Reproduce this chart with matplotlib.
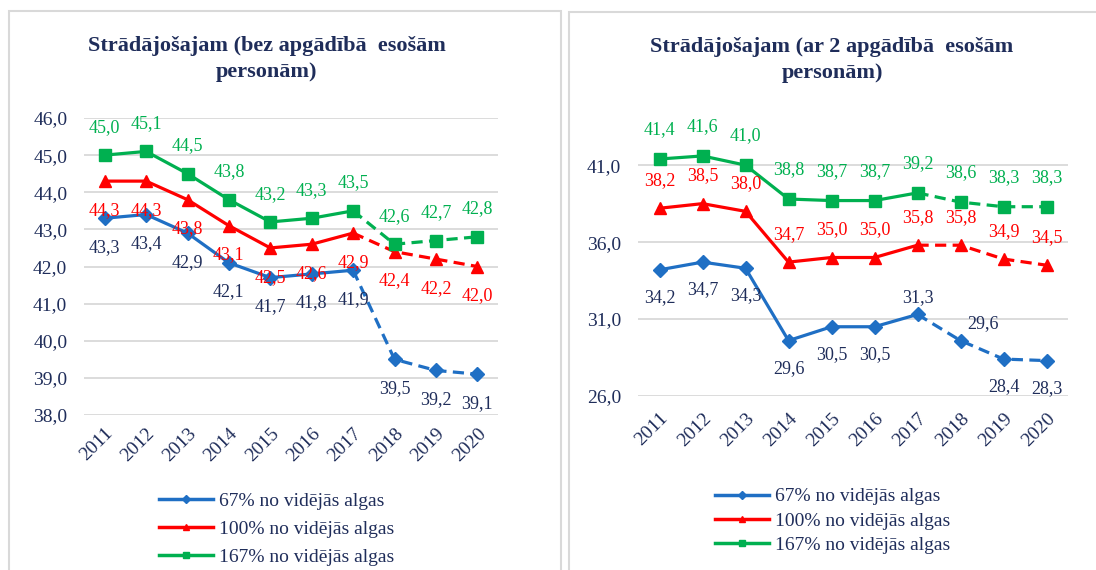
import matplotlib
matplotlib.use("Agg")
import matplotlib.pyplot as plt
from matplotlib.lines import Line2D
from matplotlib.patches import Rectangle

years = ["2011", "2012", "2013", "2014", "2015", "2016", "2017", "2018", "2019", "2020"]

# bez apgādībā esošām personām
left_67 = [43.3, 43.4, 42.9, 42.1, 41.7, 41.8, 41.9, 39.5, 39.2, 39.1]
left_100 = [44.3, 44.3, 43.8, 43.1, 42.5, 42.6, 42.9, 42.4, 42.2, 42.0]
left_167 = [45.0, 45.1, 44.5, 43.8, 43.2, 43.3, 43.5, 42.6, 42.7, 42.8]

# ar 2 apgādībā esošām personām
right_67 = [34.2, 34.7, 34.3, 29.6, 30.5, 30.5, 31.3, 29.6, 28.4, 28.3]
right_100 = [38.2, 38.5, 38.0, 34.7, 35.0, 35.0, 35.8, 35.8, 34.9, 34.5]
right_167 = [41.4, 41.6, 41.0, 38.8, 38.7, 38.7, 39.2, 38.6, 38.3, 38.3]

series_names = ["67% no vidējās algas", "100% no vidējās algas", "167% no vidējās algas"]

BLUE = "#1F6FC4"
RED = "#FF0000"
GREEN = "#00B050"
NAVY = "#1F2D5A"
GRID = "#D9D9D9"
SERIF = "Liberation Serif"

plt.rcParams["font.family"] = SERIF

fig = plt.figure(figsize=(10.96, 5.70), dpi=100)
fig.patch.set_facecolor("white")

# panel frames
fig.patches.append(Rectangle((9 / 1096, -0.01), 552 / 1096, (570 - 11) / 570 + 0.01,
                             transform=fig.transFigure, fill=False, edgecolor=GRID, lw=1.5))
fig.patches.append(Rectangle((569 / 1096, -0.01), 540 / 1096, (570 - 12) / 570 + 0.01,
                             transform=fig.transFigure, fill=False, edgecolor=GRID, lw=1.5))


def draw_panel(ax, data, label_offsets, yticks, ylim, xpad):
    x = list(range(len(years)))
    styles = [(BLUE, "D", 7), (RED, "^", 9), (GREEN, "s", 9)]
    label_colors = [NAVY, RED, GREEN]
    for vals, (col, mk, ms), lcol, offs in zip(data, styles, label_colors, label_offsets):
        ax.plot(x[:7], vals[:7], color=col, lw=2.3, marker=mk, ms=ms, zorder=3)
        ax.plot(x[6:], vals[6:], color=col, lw=2.3, ls=(0, (3.5, 2)), marker=mk, ms=ms,
                markevery=list(range(1, 4)), zorder=3)
        for i, v in enumerate(vals):
            dx, dy = offs[i]
            ax.annotate(f"{v:.1f}".replace(".", ","), (i, v), xytext=(dx, dy),
                        textcoords="offset points", ha="center", va="center",
                        color=lcol, fontsize=13, annotation_clip=False, zorder=4)
    ax.set_xlim(-0.5, 9.5)
    ax.set_ylim(*ylim)
    ax.set_yticks(yticks)
    ax.set_yticklabels([f"{t:.1f}".replace(".", ",") for t in yticks])
    ax.set_xticks(x)
    ax.set_xticklabels(years, rotation=45, ha="right", va="top", rotation_mode="anchor")
    ax.grid(axis="y", color=GRID, lw=1.3)
    ax.set_axisbelow(True)
    for s in ax.spines.values():
        s.set_visible(False)
    ax.tick_params(length=0, colors=NAVY, labelsize=14)
    ax.tick_params(axis="y", pad=12)
    ax.tick_params(axis="x", pad=xpad)


ax1 = fig.add_axes([84 / 1096, (570 - 415) / 570, 414 / 1096, 297 / 570])
above = [(0, 20)] * 10
below = [(0, -21)] * 10
draw_panel(ax1, [left_67, left_100, left_167], [below, below, above],
           [38, 39, 40, 41, 42, 43, 44, 45, 46], (38, 46), 7)

ax2 = fig.add_axes([638 / 1096, (570 - 396) / 570, 430 / 1096, 277 / 570])
blue_r = [(0, -20)] * 10
blue_r[6] = (0, 12)
blue_r[7] = (16, 12)
draw_panel(ax2, [right_67, right_100, right_167], [blue_r, [(0, 20)] * 10, [(0, 21)] * 10],
           [26, 31, 36, 41], (26, 44), 10)

fig.text(267 / 1096, 1 - 59 / 570, "Strādājošajam (bez apgādībā  esošām\npersonām)",
         ha="center", va="center", fontsize=16, fontweight="bold", color=NAVY,
         linespacing=1.35)
fig.text(832 / 1096, 1 - 60 / 570, "Strādājošajam (ar 2 apgādībā  esošām\npersonām)",
         ha="center", va="center", fontsize=16, fontweight="bold", color=NAVY,
         linespacing=1.35)

handles = [Line2D([], [], color=BLUE, lw=2.5, marker="D", ms=4),
           Line2D([], [], color=RED, lw=2.5, marker="^", ms=5),
           Line2D([], [], color=GREEN, lw=2.5, marker="s", ms=5)]

leg1 = fig.legend(handles, series_names, loc="center left",
                  bbox_to_anchor=(141 / 1096, 1 - 529 / 570), frameon=False,
                  fontsize=14, handlelength=2.8, labelspacing=0.55, handletextpad=0.3,
                  labelcolor=NAVY)
leg2 = fig.legend(handles, series_names, loc="center left",
                  bbox_to_anchor=(697 / 1096, 1 - 521 / 570), frameon=False,
                  fontsize=14, handlelength=2.8, labelspacing=0.35, handletextpad=0.3,
                  labelcolor=NAVY)

fig.savefig("out.png", dpi=100)
